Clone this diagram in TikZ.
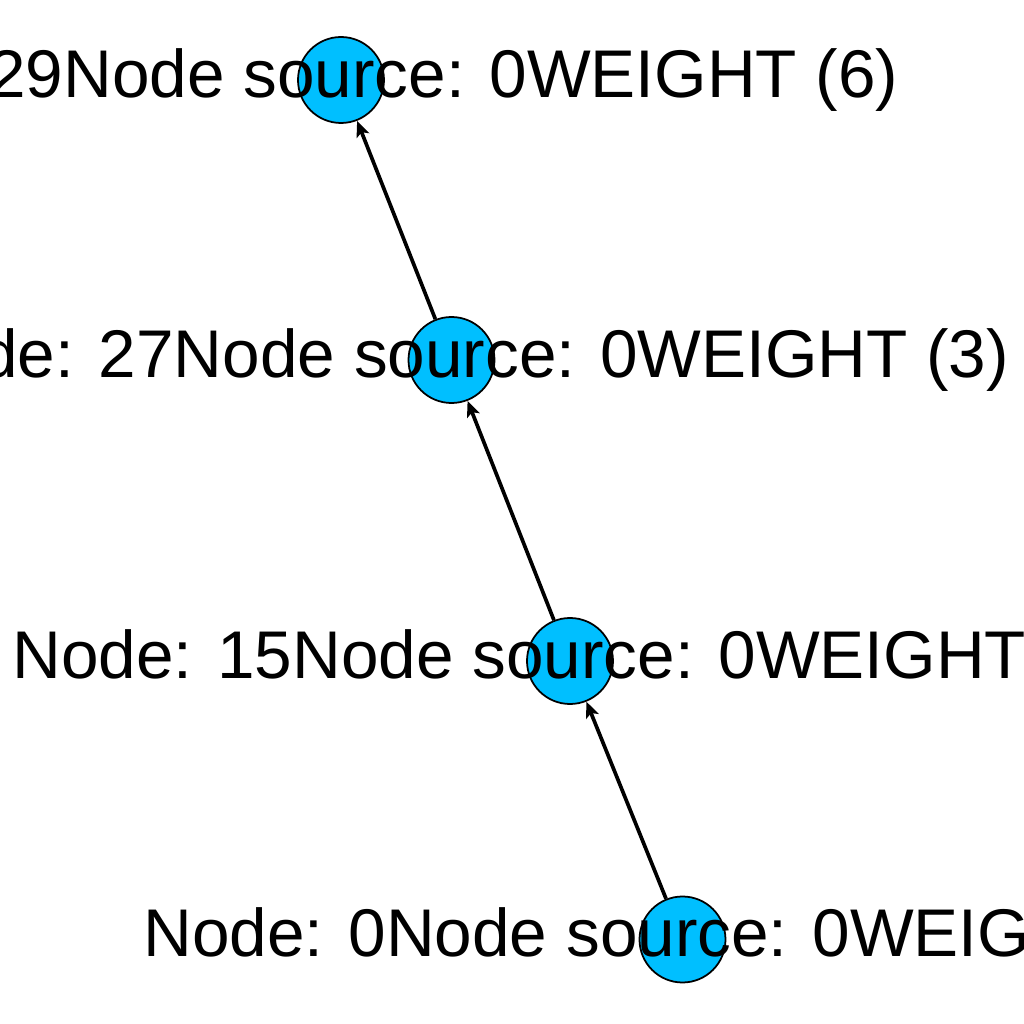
\documentclass[tikz,border=0pt]{standalone}
\usepackage{fontspec}
\setmainfont{Liberation Sans}
\usetikzlibrary{arrows.meta}
\definecolor{vblue}{RGB}{0,191,255}
\begin{document}
\begin{tikzpicture}[
	vertex/.style={circle,draw=black,line width=0.5pt,fill=vblue,minimum size=0.86cm,inner sep=0pt},
	vlabel/.style={font=\fontsize{19.2}{22}\selectfont,inner sep=0pt},
	edge/.style={line width=1.05pt,-{Stealth[length=4.5pt,width=3.8pt,inset=1pt]}}]
	\useasboundingbox(0,0)rectangle(10.24,10.24);
	\clip(0,0)rectangle(10.24,10.24);
	\node[vertex](n29)at(3.41,9.44){};
	\node[vertex](n27)at(4.515,6.64){};
	\node[vertex](n15)at(5.70,3.63){};
	\node[vertex](n0)at(6.825,0.845){};
	\draw[edge](n0)--(n15);
	\draw[edge](n15)--(n27);
	\draw[edge](n27)--(n29);
	\node[vlabel](l29)at(n29){Node: 29Node source: 0WEIGHT (6)};
	\node[vlabel](l27)at(n27){Node: 27Node source: 0WEIGHT (3)};
	\node[vlabel](l15)at(n15){Node: 15Node source: 0WEIGHT (1)};
	\node[vlabel](l0)at(n0){Node: 0Node source: 0WEIGHT (0)};
\end{tikzpicture}
\end{document}
